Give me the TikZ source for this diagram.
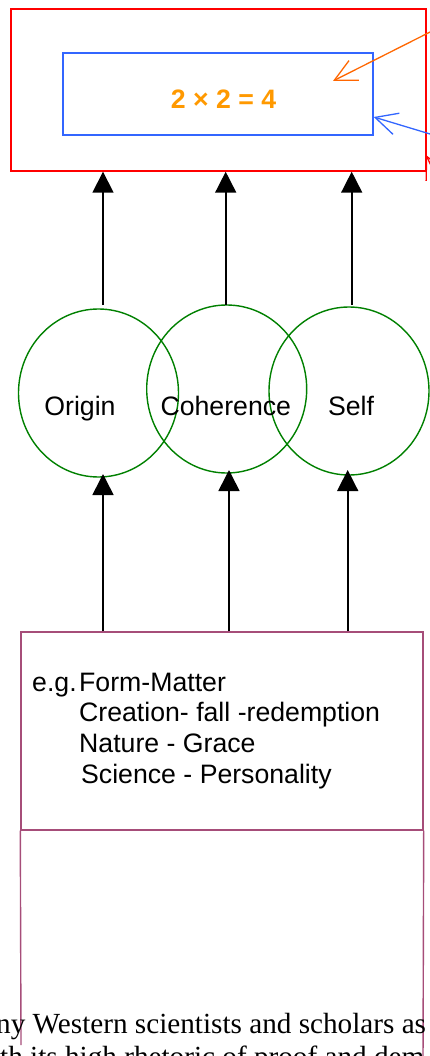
\documentclass[tikz,border=0pt]{standalone}
\usepackage{fontspec}
\setmainfont{Liberation Sans}
\newfontfamily\serifface{Liberation Serif}
\usetikzlibrary{arrows.meta,shapes.geometric}
\definecolor{cred}{RGB}{255,0,0}
\definecolor{cblue}{RGB}{51,102,255}
\definecolor{corange}{RGB}{255,153,0}
\definecolor{carrow}{RGB}{255,102,0}
\definecolor{cgreen}{RGB}{0,128,0}
\definecolor{cpurple}{RGB}{166,77,121}
\begin{document}
\begin{tikzpicture}[x=1pt,y=-1pt,
  lbl/.style={font=\fontsize{26.67}{30.5}\selectfont, inner sep=0pt},
  upar/.style={-{Triangle[length=21pt,width=21pt]}, line width=1.6pt, black},
  barb/.style={-{Straight Barb[length=22pt,width=22pt]}, line width=1.3pt},
  ring/.style={ellipse, draw=cgreen, line width=1.4pt, minimum width=160pt, minimum height=168pt, inner sep=0pt},
  boxline/.style={line width=1.4pt, inner sep=0pt},
  prose/.style={anchor=base west, inner sep=0pt, font=\serifface\fontsize{29.2}{32}\selectfont}]
\useasboundingbox (0,0) rectangle (430,1056);
\clip (0,0) rectangle (430,1056);

% top boxes
\node[draw=cred, boxline, minimum width=415pt, minimum height=162pt] (outer) at (218.5,90) {};
\node[draw=cblue, boxline, minimum width=310pt, minimum height=82pt] (inner) at (218,94) {};
\node[lbl, font=\fontsize{26.67}{30.5}\selectfont\bfseries, text=corange, anchor=base] (eq) at (223.5,108.3) {2 × 2 = 4};

% circles
\node[ring] (orig) at (98.5,393) {};
\node[ring] (coh) at (226.7,389) {};
\node[ring] (self) at (349,391) {};
\node[lbl, anchor=base] (origt) at (80,415) {Origin};
\node[lbl, anchor=base] (coht) at (225.8,415) {Coherence};
\node[lbl, anchor=base] (selft) at (351,415) {Self};

% example box
\node[draw=cpurple, boxline, minimum width=402pt, minimum height=198pt] (ex) at (222,731) {};
\node[lbl, anchor=base west] (eg) at (32,691.7) {e.g.};
\node[lbl, anchor=base west] (l1) at (79,691.7) {Form-Matter};
\node[lbl, anchor=base west] (l2) at (79,721.7) {Creation- fall -redemption};
\node[lbl, anchor=base west] (l3) at (79,752.7) {Nature - Grace};
\node[lbl, anchor=base west] (l4) at (81,783) {Science - Personality};

% lower open box
\coordinate (lowL) at (21,1045);
\coordinate (lowR) at (423,1062);
\draw[cpurple, line width=1.4pt] (ex.south west) -- (lowL);
\draw[cpurple, line width=1.4pt] (ex.south east) -- (lowR);

% serif text
\node[prose] (p1) at (-4,1033) {ny Western scientists and scholars as};
\node[prose] (p2) at (0,1066) {th its high rhetoric of proof and dem};

% arrows circles -> top box
\coordinate (a1) at (103,305);
\coordinate (a2) at (225.7,305);
\coordinate (a3) at (351.7,305);
\draw[upar] (a1) -- (a1 |- outer.south);
\draw[upar] (a2) -- (a2 |- outer.south);
\draw[upar] (a3) -- (a3 |- outer.south);

% arrows example box -> circles
\coordinate (b1) at (103,474);
\coordinate (b2) at (229,470);
\coordinate (b3) at (347.7,470);
\draw[upar] (b1 |- ex.north) -- (b1);
\draw[upar] (b2 |- ex.north) -- (b2);
\draw[upar] (b3 |- ex.north) -- (b3);

% incoming open arrows from the right
\coordinate (os) at (445,24.5);
\coordinate (ot) at (333,81);
\draw[barb, carrow] (os) -- (ot);
\coordinate (bs) at (445,138.5);
\coordinate (bt) at (inner.east |- 0,117);
\draw[barb, cblue] (bs) -- (bt);
\coordinate (rs) at (445,195);
\coordinate (rt) at (426,155);
\draw[barb, cred] (rs) -- (rt);
\end{tikzpicture}
\end{document}
